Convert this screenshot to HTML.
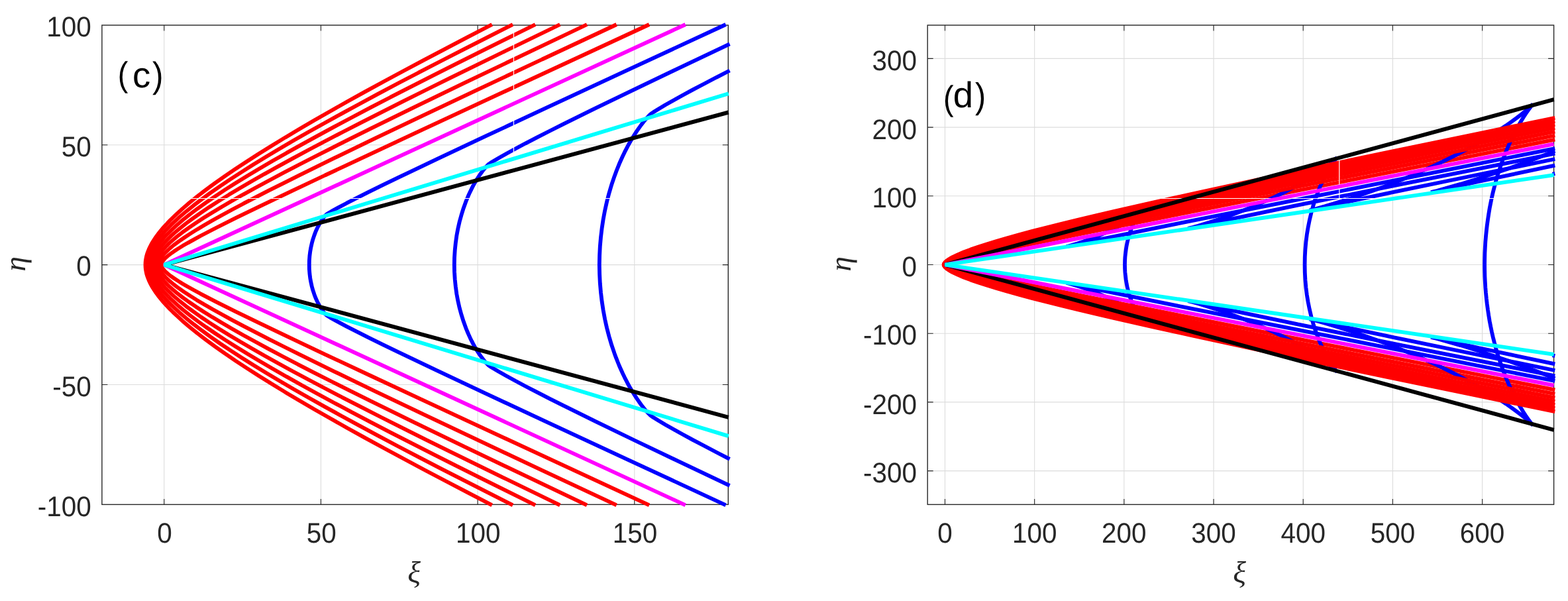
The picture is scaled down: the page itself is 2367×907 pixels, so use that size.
<!DOCTYPE html>
<html lang="en"><head><meta charset="utf-8"><title>Wake patterns (c) (d)</title>
<style>
html,body{margin:0;padding:0;background:#fff;}
body{width:2367px;height:907px;overflow:hidden;}
svg{display:block;}
text{text-rendering:geometricPrecision;}
.t{font-family:"Liberation Sans",sans-serif;font-size:41.5px;fill:#262626;}
.l{font-family:"Liberation Sans",sans-serif;fill:#000;}
.g{font-family:"Liberation Serif","DejaVu Serif",serif;font-style:italic;fill:#262626;}
</style></head>
<body>
<svg width="2367" height="907" viewBox="0 0 2367 907">
<rect width="2367" height="907" fill="#fff"/>
<g id="panel-c">
<path d="M247.75 38 V761.4 M484.44 38 V761.4 M721.12 38 V761.4 M957.8 38 V761.4 M153.9 580.5 H1099.3 M153.9 399.65 H1099.3 M153.9 218.8 H1099.3" stroke="#262626" stroke-opacity="0.16" stroke-width="1.1" fill="none"/>
<rect x="153.9" y="38" width="945.4" height="723.4" fill="none" stroke="#262626" stroke-width="1.4"/>
<path d="M247.75 761.4 v-8.5 M247.75 38 v8.5 M484.44 761.4 v-8.5 M484.44 38 v8.5 M721.12 761.4 v-8.5 M721.12 38 v8.5 M957.8 761.4 v-8.5 M957.8 38 v8.5 M153.9 580.5 h8.5 M1099.3 580.5 h-8.5 M153.9 399.65 h8.5 M1099.3 399.65 h-8.5 M153.9 218.8 h8.5 M1099.3 218.8 h-8.5" stroke="#262626" stroke-width="1.1" fill="none"/>
<mask id="seam-c" maskUnits="userSpaceOnUse" x="0" y="0" width="2367" height="907"><rect width="2367" height="907" fill="#fff"/><path d="M775.5 32 V300.1 M147.9 299.5 H1105.3" stroke="#000" stroke-width="1.2" fill="none"/></mask>
<g fill="none" stroke-linecap="butt">
<g mask="url(#seam-c)">
<path d="M1095.6 762.3 L946.4 693.1 L827.0 637.6 L732.7 593.6 L659.0 558.9 L600.8 531.1 L577.0 519.6 L556.2 509.4 L538.4 500.4 L523.1 492.6 L510.5 485.9 L500.5 480.4 L495.7 477.5 L492.6 475.5 L490.8 473.7 L488.6 471.1 L485.3 466.5 L482.2 461.4 L479.3 455.9 L476.6 450.0 L474.4 444.2 L472.4 438.2 L470.7 432.0 L469.3 425.7 L468.2 419.4 L467.4 412.9 L466.9 406.2 L466.8 399.6 L466.9 393.1 L467.4 386.4 L468.2 379.9 L469.3 373.6 L470.7 367.3 L472.4 361.1 L474.4 355.1 L476.6 349.3 L479.3 343.4 L482.2 337.9 L485.3 332.8 L488.6 328.2 L490.8 325.6 L492.6 323.8 L495.7 321.8 L500.5 318.9 L510.5 313.4 L523.1 306.7 L538.4 298.9 L556.2 289.9 L577.0 279.7 L600.8 268.2 L659.0 240.4 L732.7 205.7 L827.0 161.7 L946.4 106.2 L1095.6 37.0" stroke="#0000ff" stroke-width="5.8" fill="none" stroke-linejoin="bevel" />
<path d="M980.0 762.3 L730.9 646.9 L635.2 602.4 L556.2 565.5 L490.7 534.8 L437.6 509.7 L393.2 488.4 L356.5 470.6 L326.9 455.8 L314.3 449.3 L302.7 443.3 L292.5 437.7 L283.5 432.7 L275.6 428.2 L268.7 423.9 L262.7 420.0 L257.5 416.4 L253.2 413.0 L249.7 409.9 L247.1 407.0 L246.0 405.7 L245.2 404.4 L244.5 403.2 L244.1 402.0 L243.8 400.8 L243.7 399.6 L243.8 398.5 L244.1 397.3 L244.5 396.1 L245.2 394.9 L246.0 393.6 L247.1 392.3 L249.7 389.4 L253.2 386.3 L257.5 382.9 L262.7 379.3 L268.7 375.4 L275.6 371.1 L283.5 366.6 L292.5 361.6 L302.7 356.0 L314.3 350.0 L326.9 343.5 L356.5 328.7 L393.2 310.9 L437.6 289.6 L490.7 264.5 L556.2 233.8 L635.2 196.9 L730.9 152.4 L980.0 37.0" stroke="#ff0000" stroke-width="5.8" fill="none" stroke-linejoin="bevel" />
<path d="M1101.5 732.9 L1023.6 695.9 L956.8 664.0 L899.3 636.1 L851.2 612.4 L830.1 601.8 L810.7 591.9 L793.4 583.0 L778.0 574.8 L764.3 567.3 L752.8 560.8 L743.5 555.3 L739.9 553.0 L737.5 551.4 L735.4 549.3 L732.7 546.5 L730.0 543.2 L727.3 539.6 L724.5 535.8 L721.9 531.8 L719.3 527.8 L716.7 523.4 L714.2 518.9 L711.9 514.4 L709.7 509.9 L707.4 504.9 L705.3 500.0 L703.3 495.1 L699.7 485.1 L696.5 474.9 L693.7 464.8 L691.3 454.2 L689.3 443.5 L687.8 432.4 L686.7 421.5 L686.0 410.4 L685.8 399.6 L686.0 388.9 L686.7 377.8 L687.8 366.9 L689.3 355.8 L691.3 345.1 L693.7 334.5 L696.5 324.4 L699.7 314.2 L703.3 304.2 L705.3 299.3 L707.4 294.4 L709.7 289.4 L711.9 284.9 L714.2 280.4 L716.7 275.9 L719.3 271.5 L721.9 267.5 L724.5 263.5 L727.3 259.7 L730.0 256.1 L732.7 252.8 L735.4 250.0 L737.5 247.9 L739.9 246.3 L743.5 244.0 L752.8 238.5 L764.3 232.0 L778.0 224.5 L793.4 216.3 L810.7 207.4 L830.1 197.5 L851.2 186.9 L899.3 163.2 L956.8 135.3 L1023.6 103.4 L1101.5 66.4" stroke="#0000ff" stroke-width="5.8" fill="none" stroke-linejoin="bevel" />
<path d="M930.7 762.3 L818.5 709.8 L723.0 664.9 L639.5 625.4 L566.5 590.6 L504.4 560.6 L451.6 534.7 L428.2 523.0 L406.0 511.9 L386.1 501.6 L367.7 492.1 L350.6 483.1 L335.4 474.8 L321.4 467.0 L308.8 459.7 L297.2 452.9 L286.9 446.4 L277.6 440.3 L269.4 434.7 L262.3 429.4 L256.2 424.3 L251.1 419.5 L248.8 417.3 L246.9 415.1 L245.2 412.9 L243.7 410.9 L242.4 408.9 L241.4 406.9 L240.7 405.1 L240.1 403.2 L239.8 401.4 L239.7 399.6 L239.8 397.9 L240.1 396.1 L240.7 394.2 L241.4 392.4 L242.4 390.4 L243.7 388.4 L245.2 386.4 L246.9 384.2 L248.8 382.0 L251.1 379.8 L256.2 375.0 L262.3 369.9 L269.4 364.6 L277.6 359.0 L286.9 352.9 L297.2 346.4 L308.8 339.6 L321.4 332.3 L335.4 324.5 L350.6 316.2 L367.7 307.2 L386.1 297.7 L406.0 287.4 L428.2 276.3 L451.6 264.6 L504.4 238.7 L566.5 208.7 L639.5 173.9 L723.0 134.4 L818.5 89.5 L930.7 37.0" stroke="#ff0000" stroke-width="5.8" fill="none" stroke-linejoin="bevel" />
<path d="M1101.5 692.8 L1081.4 682.5 L1062.9 672.8 L1045.9 663.9 L1030.5 655.5 L1016.6 647.8 L1004.5 641.0 L994.1 634.8 L986.0 629.8 L982.9 627.6 L981.7 626.7 L978.7 623.7 L975.3 620.0 L971.8 615.8 L968.2 611.2 L964.6 606.2 L961.1 601.1 L957.9 596.2 L954.8 591.3 L951.7 586.1 L948.7 580.8 L945.9 575.4 L942.9 569.6 L940.1 563.8 L937.5 558.0 L934.8 552.0 L932.4 546.0 L930.0 539.9 L927.6 533.4 L923.3 520.8 L919.5 508.0 L916.1 495.0 L914.6 488.3 L913.1 481.5 L910.6 468.0 L908.6 454.8 L907.0 441.3 L905.8 427.6 L905.1 413.6 L904.8 399.6 L905.1 385.7 L905.8 371.7 L907.0 358.0 L908.6 344.5 L910.6 331.3 L913.1 317.8 L914.6 311.0 L916.1 304.3 L919.5 291.3 L923.3 278.5 L927.6 265.9 L930.0 259.4 L932.4 253.3 L934.8 247.3 L937.5 241.3 L940.1 235.5 L942.9 229.7 L945.9 223.9 L948.7 218.5 L951.7 213.2 L954.8 208.0 L957.9 203.1 L961.1 198.2 L964.6 193.1 L968.2 188.1 L971.8 183.5 L975.3 179.3 L978.7 175.6 L981.7 172.6 L982.9 171.7 L986.0 169.5 L994.1 164.5 L1004.5 158.3 L1016.6 151.5 L1030.5 143.8 L1045.9 135.4 L1062.9 126.5 L1081.4 116.8 L1101.5 106.5" stroke="#0000ff" stroke-width="5.8" fill="none" stroke-linejoin="bevel" />
<path d="M886.0 762.3 L789.1 716.2 L701.1 674.1 L625.7 637.6 L558.9 604.9 L528.7 589.9 L500.0 575.5 L474.0 562.3 L449.6 549.8 L427.0 538.0 L405.5 526.6 L385.5 515.8 L367.1 505.7 L350.4 496.2 L334.6 487.1 L320.5 478.6 L307.4 470.5 L295.5 462.7 L284.9 455.5 L275.3 448.6 L266.8 442.0 L259.4 435.7 L256.0 432.7 L253.0 429.7 L250.1 426.8 L247.6 424.1 L245.3 421.3 L243.2 418.7 L241.4 416.1 L239.9 413.6 L238.6 411.2 L237.5 408.8 L236.7 406.4 L236.1 404.2 L235.7 401.9 L235.6 399.6 L235.7 397.4 L236.1 395.1 L236.7 392.9 L237.5 390.5 L238.6 388.1 L239.9 385.7 L241.4 383.2 L243.2 380.6 L245.3 378.0 L247.6 375.2 L250.1 372.5 L253.0 369.6 L256.0 366.6 L259.4 363.6 L266.8 357.3 L275.3 350.7 L284.9 343.8 L295.5 336.6 L307.4 328.8 L320.5 320.7 L334.6 312.2 L350.4 303.1 L367.1 293.6 L385.5 283.5 L405.5 272.7 L427.0 261.3 L449.6 249.5 L474.0 237.0 L500.0 223.8 L528.7 209.4 L558.9 194.4 L625.7 161.7 L701.1 125.2 L789.1 83.1 L886.0 37.0" stroke="#ff0000" stroke-width="5.8" fill="none" stroke-linejoin="bevel" />
<path d="M845.3 762.3 L758.7 720.3 L679.1 681.4 L643.5 663.8 L608.6 646.4 L576.0 630.0 L545.9 614.7 L516.9 599.8 L490.4 586.0 L465.3 572.8 L441.8 560.2 L419.9 548.2 L399.2 536.7 L380.4 526.0 L362.4 515.5 L346.0 505.7 L330.6 496.2 L316.4 487.1 L303.6 478.5 L291.8 470.2 L281.1 462.3 L271.4 454.6 L262.9 447.4 L259.0 443.9 L255.4 440.4 L252.1 437.1 L249.0 433.9 L246.2 430.6 L243.6 427.5 L241.3 424.5 L239.2 421.5 L237.4 418.6 L235.9 415.7 L234.5 412.9 L233.5 410.2 L232.6 407.5 L232.1 404.9 L231.7 402.3 L231.6 399.6 L231.7 397.0 L232.1 394.4 L232.6 391.8 L233.5 389.1 L234.5 386.4 L235.9 383.6 L237.4 380.7 L239.2 377.8 L241.3 374.8 L243.6 371.8 L246.2 368.7 L249.0 365.4 L252.1 362.2 L255.4 358.9 L259.0 355.4 L262.9 351.9 L271.4 344.7 L281.1 337.0 L291.8 329.1 L303.6 320.8 L316.4 312.2 L330.6 303.1 L346.0 293.6 L362.4 283.8 L380.4 273.3 L399.2 262.6 L419.9 251.1 L441.8 239.1 L465.3 226.5 L490.4 213.3 L516.9 199.5 L545.9 184.6 L576.0 169.3 L608.6 152.9 L643.5 135.5 L679.1 117.9 L758.7 79.0 L845.3 37.0" stroke="#ff0000" stroke-width="5.8" fill="none" stroke-linejoin="bevel" />
<path d="M808.1 762.3 L728.0 722.7 L689.5 703.4 L654.8 685.9 L621.9 669.2 L589.5 652.6 L559.2 636.9 L531.1 622.1 L504.0 607.7 L479.1 594.2 L455.4 581.2 L432.5 568.4 L411.2 556.2 L391.6 544.8 L373.2 533.8 L355.7 523.0 L339.7 512.9 L324.7 503.0 L310.8 493.5 L298.2 484.5 L286.6 475.8 L276.2 467.5 L266.8 459.4 L258.4 451.7 L254.6 447.9 L251.0 444.2 L247.7 440.7 L244.7 437.1 L241.9 433.7 L239.4 430.3 L237.1 427.0 L235.1 423.7 L233.3 420.5 L231.8 417.4 L230.5 414.4 L229.4 411.3 L228.6 408.4 L228.0 405.4 L227.7 402.5 L227.6 399.6 L227.7 396.8 L228.0 393.9 L228.6 390.9 L229.4 388.0 L230.5 384.9 L231.8 381.9 L233.3 378.8 L235.1 375.6 L237.1 372.3 L239.4 369.0 L241.9 365.6 L244.7 362.2 L247.7 358.6 L251.0 355.1 L254.6 351.4 L258.4 347.6 L266.8 339.9 L276.2 331.8 L286.6 323.5 L298.2 314.8 L310.8 305.8 L324.7 296.3 L339.7 286.4 L355.7 276.3 L373.2 265.5 L391.6 254.5 L411.2 243.1 L432.5 230.9 L455.4 218.1 L479.1 205.1 L504.0 191.6 L531.1 177.2 L559.2 162.4 L589.5 146.7 L621.9 130.1 L654.8 113.4 L689.5 95.9 L728.0 76.6 L808.1 37.0" stroke="#ff0000" stroke-width="5.8" fill="none" stroke-linejoin="bevel" />
<path d="M774.1 762.3 L736.2 743.2 L700.3 724.9 L665.9 707.3 L631.7 689.6 L600.8 673.5 L570.4 657.4 L542.0 642.1 L515.5 627.7 L489.9 613.6 L465.6 600.0 L443.2 587.2 L421.5 574.5 L401.4 562.5 L382.2 550.8 L364.7 539.7 L348.0 528.9 L332.4 518.5 L317.9 508.4 L304.6 498.7 L292.4 489.4 L281.2 480.4 L270.9 471.7 L261.7 463.2 L257.5 459.1 L253.5 455.1 L249.8 451.2 L246.4 447.3 L243.2 443.5 L240.2 439.8 L237.5 436.2 L235.1 432.6 L232.8 429.0 L230.8 425.5 L229.1 422.2 L227.6 418.8 L226.3 415.5 L225.3 412.3 L224.5 409.1 L224.0 405.9 L223.6 402.8 L223.5 399.6 L223.6 396.5 L224.0 393.4 L224.5 390.2 L225.3 387.0 L226.3 383.8 L227.6 380.5 L229.1 377.1 L230.8 373.8 L232.8 370.3 L235.1 366.7 L237.5 363.1 L240.2 359.5 L243.2 355.8 L246.4 352.0 L249.8 348.1 L253.5 344.2 L257.5 340.2 L261.7 336.1 L270.9 327.6 L281.2 318.9 L292.4 309.9 L304.6 300.6 L317.9 290.9 L332.4 280.8 L348.0 270.4 L364.7 259.6 L382.2 248.5 L401.4 236.8 L421.5 224.8 L443.2 212.1 L465.6 199.3 L489.9 185.7 L515.5 171.6 L542.0 157.2 L570.4 141.9 L600.8 125.8 L631.7 109.7 L665.9 92.0 L700.3 74.4 L736.2 56.1 L774.1 37.0" stroke="#ff0000" stroke-width="5.8" fill="none" stroke-linejoin="bevel" />
<path d="M742.7 762.3 L706.2 743.4 L672.4 725.7 L640.0 708.7 L609.2 692.3 L579.9 676.5 L551.2 660.9 L524.3 646.0 L499.2 631.8 L475.0 618.0 L451.9 604.5 L430.7 591.9 L410.1 579.3 L390.8 567.3 L372.6 555.6 L355.8 544.6 L339.8 533.7 L324.8 523.1 L310.9 512.9 L298.0 503.0 L286.2 493.5 L275.3 484.2 L265.5 475.2 L260.9 470.8 L256.5 466.5 L252.5 462.2 L248.6 458.0 L245.0 454.0 L241.7 449.9 L238.5 445.9 L235.7 442.1 L233.1 438.2 L230.7 434.5 L228.5 430.8 L226.6 427.1 L224.9 423.5 L223.5 420.0 L222.2 416.5 L221.2 413.1 L220.5 409.7 L219.9 406.3 L219.6 403.0 L219.5 399.6 L219.6 396.3 L219.9 393.0 L220.5 389.6 L221.2 386.2 L222.2 382.8 L223.5 379.3 L224.9 375.8 L226.6 372.2 L228.5 368.5 L230.7 364.8 L233.1 361.1 L235.7 357.2 L238.5 353.4 L241.7 349.4 L245.0 345.3 L248.6 341.3 L252.5 337.1 L256.5 332.8 L260.9 328.5 L265.5 324.1 L275.3 315.1 L286.2 305.8 L298.0 296.3 L310.9 286.4 L324.8 276.2 L339.8 265.6 L355.8 254.7 L372.6 243.7 L390.8 232.0 L410.1 220.0 L430.7 207.4 L451.9 194.8 L475.0 181.3 L499.2 167.5 L524.3 153.3 L551.2 138.4 L579.9 122.8 L609.2 107.0 L640.0 90.6 L672.4 73.6 L706.2 55.9 L742.7 37.0" stroke="#ff0000" stroke-width="5.8" fill="none" stroke-linejoin="bevel" />
</g>
<path d="M1099.8 629.8 L247.8 399.6 L1099.8 169.5" stroke="#000000" stroke-width="6.0" fill="none" stroke-linejoin="bevel" />
<path d="M1034.7 762.3 L247.8 399.6 L1034.7 37.0" stroke="#ff00ff" stroke-width="5.8" fill="none" stroke-linejoin="bevel" />
<path d="M1099.8 658.1 L247.8 399.6 L1099.8 141.2" stroke="#00ffff" stroke-width="5.8" fill="none" stroke-linejoin="bevel" />
</g>
<text class="t" transform="translate(248.45 818.9) scale(0.975 1.03)" text-anchor="middle">0</text>
<text class="t" transform="translate(485.13 818.9) scale(0.975 1.03)" text-anchor="middle">50</text>
<text class="t" transform="translate(721.82 818.9) scale(0.975 1.03)" text-anchor="middle">100</text>
<text class="t" transform="translate(958.5 818.9) scale(0.975 1.03)" text-anchor="middle">150</text>
<text class="t" transform="translate(137.7 778.85) scale(0.975 1.03)" text-anchor="end">-100</text>
<text class="t" transform="translate(137.7 598.4) scale(0.975 1.03)" text-anchor="end">-50</text>
<text class="t" transform="translate(137.7 416.35) scale(0.975 1.03)" text-anchor="end">0</text>
<text class="t" transform="translate(137.7 235.95) scale(0.975 1.03)" text-anchor="end">50</text>
<text class="t" transform="translate(137.7 54.95) scale(0.975 1.03)" text-anchor="end">100</text>
<text class="g" font-size="45" transform="translate(37.5 398.3) rotate(-90)" text-anchor="middle">η</text>
<text class="g" font-size="46" x="625" y="879" text-anchor="middle">ξ</text>
<text class="l"><tspan x="177.8" y="129.6" font-size="52" textLength="15.58" lengthAdjust="spacingAndGlyphs">(</tspan><tspan x="200.1" y="132" font-size="54.5">c</tspan><tspan x="230" y="132.3" font-size="54.5" textLength="16.52" lengthAdjust="spacingAndGlyphs">)</tspan></text>
</g>
<g id="panel-d">
<path d="M1426.5 38 V761.4 M1561.68 38 V761.4 M1696.86 38 V761.4 M1832.04 38 V761.4 M1967.22 38 V761.4 M2102.4 38 V761.4 M2237.58 38 V761.4 M1400.2 710.6 H2345.6 M1400.2 606.9 H2345.6 M1400.2 503.2 H2345.6 M1400.2 399.5 H2345.6 M1400.2 295.8 H2345.6 M1400.2 192.1 H2345.6 M1400.2 88.4 H2345.6" stroke="#262626" stroke-opacity="0.16" stroke-width="1.1" fill="none"/>
<rect x="1400.2" y="38" width="945.4" height="723.4" fill="none" stroke="#262626" stroke-width="1.4"/>
<path d="M1426.5 761.4 v-8.5 M1426.5 38 v8.5 M1561.68 761.4 v-8.5 M1561.68 38 v8.5 M1696.86 761.4 v-8.5 M1696.86 38 v8.5 M1832.04 761.4 v-8.5 M1832.04 38 v8.5 M1967.22 761.4 v-8.5 M1967.22 38 v8.5 M2102.4 761.4 v-8.5 M2102.4 38 v8.5 M2237.58 761.4 v-8.5 M2237.58 38 v8.5 M1400.2 710.6 h8.5 M2345.6 710.6 h-8.5 M1400.2 606.9 h8.5 M2345.6 606.9 h-8.5 M1400.2 503.2 h8.5 M2345.6 503.2 h-8.5 M1400.2 399.5 h8.5 M2345.6 399.5 h-8.5 M1400.2 295.8 h8.5 M2345.6 295.8 h-8.5 M1400.2 192.1 h8.5 M2345.6 192.1 h-8.5 M1400.2 88.4 h8.5 M2345.6 88.4 h-8.5" stroke="#262626" stroke-width="1.1" fill="none"/>
<mask id="seam-d" maskUnits="userSpaceOnUse" x="0" y="0" width="2367" height="907"><rect width="2367" height="907" fill="#fff"/><path d="M2021.8 32 V300.1 M1394.2 299.5 H2351.6" stroke="#000" stroke-width="1.2" fill="none"/></mask>
<g fill="none" stroke-linecap="butt">
<g mask="url(#seam-d)">
<path d="M2347.3 574.9 L1987.4 503.4 L1781.7 462.4 L1715.1 448.9 L1666.2 438.9 L1631.2 431.6 L1609.9 426.8 L1617.6 428.9 L1626.2 431.5 L1634.7 434.3 L1643.3 437.3 L1651.6 440.4 L1659.7 443.7 L1667.6 447.1 L1675.3 450.6 L1682.7 454.2 L1689.8 457.9 L1696.5 461.8 L1702.9 465.6 L1708.8 469.5 L1714.2 473.4 L1718.9 477.1 L1722.4 480.3 L1720.0 477.3 L1717.4 473.4 L1714.9 469.2 L1712.5 464.6 L1710.2 459.7 L1708.2 454.8 L1706.2 449.5 L1704.5 444.3 L1703.0 438.8 L1701.7 433.4 L1700.6 427.9 L1699.7 422.2 L1699.0 416.7 L1698.4 411.0 L1698.1 405.3 L1698.0 399.5 L1698.1 393.7 L1698.4 388.0 L1699.0 382.3 L1699.7 376.8 L1700.6 371.1 L1701.7 365.6 L1703.0 360.2 L1704.5 354.7 L1706.2 349.5 L1708.2 344.2 L1710.2 339.3 L1712.5 334.4 L1714.9 329.8 L1717.4 325.6 L1720.0 321.7 L1722.4 318.7 L1718.9 321.9 L1714.2 325.6 L1708.8 329.5 L1702.9 333.4 L1696.5 337.2 L1689.8 341.1 L1682.7 344.8 L1675.3 348.4 L1667.6 351.9 L1659.7 355.3 L1651.6 358.6 L1643.3 361.7 L1634.7 364.7 L1626.2 367.5 L1617.6 370.1 L1609.9 372.2 L1631.2 367.4 L1666.2 360.1 L1715.1 350.1 L1781.7 336.6 L1987.4 295.6 L2347.3 224.1" stroke="#0000ff" stroke-width="5.8" fill="none" stroke-linejoin="bevel" />
<path d="M2347.3 588.4 L2005.0 520.5 L1783.2 476.4 L1639.3 447.6 L1547.2 428.9 L1514.5 422.2 L1488.7 416.7 L1468.6 412.3 L1453.1 408.7 L1441.5 405.7 L1436.9 404.4 L1433.2 403.2 L1430.2 402.1 L1428.1 401.1 L1426.7 400.2 L1426.3 399.8 L1426.2 399.5 L1426.3 399.2 L1426.7 398.8 L1428.1 397.9 L1430.2 396.9 L1433.2 395.8 L1436.9 394.6 L1441.5 393.3 L1453.1 390.3 L1468.6 386.7 L1488.7 382.3 L1514.5 376.8 L1547.2 370.1 L1639.3 351.4 L1783.2 322.6 L2005.0 278.5 L2347.3 210.6" stroke="#ff0000" stroke-width="5.8" fill="none" stroke-linejoin="bevel" />
<path d="M2347.3 567.3 L2117.1 521.3 L2030.3 503.8 L1959.1 489.3 L1900.5 477.2 L1853.7 467.4 L1817.3 459.6 L1793.3 454.2 L1800.5 456.0 L1808.7 458.3 L1825.8 463.5 L1843.0 469.0 L1860.0 475.0 L1876.6 481.3 L1892.9 487.8 L1908.7 494.6 L1924.0 501.6 L1938.8 508.9 L1953.1 516.4 L1966.6 524.0 L1973.0 527.8 L1979.2 531.7 L1985.3 535.6 L1991.2 539.5 L1996.7 543.4 L2002.0 547.3 L2006.9 551.0 L2011.3 554.7 L2015.3 558.2 L2018.3 561.1 L2016.1 558.5 L2013.6 555.1 L2011.0 551.4 L2008.3 547.3 L2005.8 543.2 L2003.3 538.9 L2000.9 534.4 L1998.5 529.6 L1993.9 520.0 L1989.8 510.1 L1985.9 499.6 L1982.5 489.0 L1979.5 478.2 L1976.9 467.2 L1974.7 456.3 L1972.8 444.9 L1971.4 433.8 L1970.4 422.5 L1969.8 411.1 L1969.6 399.5 L1969.8 387.9 L1970.4 376.5 L1971.4 365.2 L1972.8 354.1 L1974.7 342.7 L1976.9 331.8 L1979.5 320.8 L1982.5 310.0 L1985.9 299.4 L1989.8 288.9 L1993.9 279.0 L1998.5 269.4 L2000.9 264.6 L2003.3 260.1 L2005.8 255.8 L2008.3 251.7 L2011.0 247.6 L2013.6 243.9 L2016.1 240.5 L2018.3 237.9 L2015.3 240.8 L2011.3 244.3 L2006.9 248.0 L2002.0 251.7 L1996.7 255.6 L1991.2 259.5 L1985.3 263.4 L1979.2 267.3 L1973.0 271.2 L1966.6 275.0 L1953.1 282.6 L1938.8 290.1 L1924.0 297.4 L1908.7 304.4 L1892.9 311.2 L1876.6 317.7 L1860.0 324.0 L1843.0 330.0 L1825.8 335.5 L1808.7 340.7 L1800.5 343.0 L1793.3 344.8 L1817.3 339.4 L1853.7 331.6 L1900.5 321.8 L1959.1 309.7 L2030.3 295.2 L2117.1 277.7 L2347.3 231.7" stroke="#0000ff" stroke-width="5.8" fill="none" stroke-linejoin="bevel" />
<path d="M2347.3 594.5 L2041.3 533.6 L1826.8 490.6 L1677.8 460.4 L1621.9 448.9 L1575.9 439.2 L1537.8 431.1 L1506.6 424.2 L1481.5 418.3 L1461.8 413.3 L1453.6 411.1 L1446.4 409.0 L1440.4 407.0 L1435.4 405.2 L1431.3 403.5 L1428.4 402.0 L1427.3 401.3 L1426.6 400.6 L1426.1 400.0 L1426.0 399.5 L1426.1 399.0 L1426.6 398.4 L1427.3 397.7 L1428.4 397.0 L1431.3 395.5 L1435.4 393.8 L1440.4 392.0 L1446.4 390.0 L1453.6 387.9 L1461.8 385.7 L1481.5 380.7 L1506.6 374.8 L1537.8 367.9 L1575.9 359.8 L1621.9 350.1 L1677.8 338.6 L1826.8 308.4 L2041.3 265.4 L2347.3 204.5" stroke="#ff0000" stroke-width="5.8" fill="none" stroke-linejoin="bevel" />
<path d="M2347.3 559.0 L2209.8 531.0 L2104.7 509.3 L2062.2 500.3 L2026.4 492.7 L1997.1 486.2 L1976.7 481.5 L1987.5 484.3 L1999.9 487.8 L2012.5 491.5 L2025.5 495.4 L2038.4 499.5 L2051.2 503.8 L2064.1 508.2 L2076.8 512.8 L2089.2 517.4 L2101.7 522.1 L2114.1 527.0 L2126.2 532.0 L2138.2 537.1 L2149.8 542.2 L2161.5 547.4 L2172.8 552.7 L2184.0 558.1 L2195.0 563.6 L2205.8 569.2 L2216.3 574.8 L2226.5 580.5 L2236.6 586.3 L2246.2 592.0 L2255.6 597.8 L2264.6 603.6 L2273.5 609.5 L2281.8 615.4 L2289.7 621.1 L2297.0 626.8 L2303.7 632.3 L2309.7 637.5 L2314.2 641.9 L2310.9 638.0 L2307.1 632.9 L2303.2 627.3 L2299.3 621.3 L2295.5 615.0 L2291.8 608.6 L2288.1 601.8 L2284.4 594.7 L2281.0 587.5 L2277.7 580.2 L2274.6 573.1 L2271.5 565.4 L2268.4 557.4 L2265.7 549.6 L2262.9 541.5 L2260.5 533.8 L2258.2 525.8 L2256.0 517.5 L2253.8 509.0 L2252.0 501.1 L2250.3 492.9 L2248.7 484.7 L2247.3 476.2 L2246.0 467.6 L2244.8 458.9 L2243.9 451.0 L2243.0 442.1 L2242.3 434.0 L2241.8 425.0 L2241.4 416.8 L2241.2 407.7 L2241.1 399.5 L2241.2 391.3 L2241.4 382.2 L2241.8 374.0 L2242.3 365.0 L2243.0 356.9 L2243.9 348.0 L2244.8 340.1 L2246.0 331.4 L2247.3 322.8 L2248.7 314.3 L2250.3 306.1 L2252.0 297.9 L2253.8 290.0 L2256.0 281.5 L2258.2 273.2 L2260.5 265.2 L2262.9 257.5 L2265.7 249.4 L2268.4 241.6 L2271.5 233.6 L2274.6 225.9 L2277.7 218.8 L2281.0 211.5 L2284.4 204.3 L2288.1 197.2 L2291.8 190.4 L2295.5 184.0 L2299.3 177.7 L2303.2 171.7 L2307.1 166.1 L2310.9 161.0 L2314.2 157.1 L2309.7 161.5 L2303.7 166.7 L2297.0 172.2 L2289.7 177.9 L2281.8 183.6 L2273.5 189.5 L2264.6 195.4 L2255.6 201.2 L2246.2 207.0 L2236.6 212.7 L2226.5 218.5 L2216.3 224.2 L2205.8 229.8 L2195.0 235.4 L2184.0 240.9 L2172.8 246.3 L2161.5 251.6 L2149.8 256.8 L2138.2 261.9 L2126.2 267.0 L2114.1 272.0 L2101.7 276.9 L2089.2 281.6 L2076.8 286.2 L2064.1 290.8 L2051.2 295.2 L2038.4 299.5 L2025.5 303.6 L2012.5 307.5 L1999.9 311.2 L1987.5 314.7 L1976.7 317.5 L1997.1 312.8 L2026.4 306.3 L2062.2 298.7 L2104.7 289.7 L2209.8 268.0 L2347.3 240.0" stroke="#0000ff" stroke-width="5.8" fill="none" stroke-linejoin="bevel" />
<path d="M2347.3 600.3 L2061.0 543.0 L1950.6 520.8 L1853.6 501.1 L1771.1 484.2 L1701.4 469.8 L1643.2 457.6 L1593.4 446.9 L1552.1 437.7 L1517.5 429.7 L1489.5 422.8 L1477.7 419.8 L1467.1 416.8 L1457.6 414.1 L1449.4 411.5 L1442.4 409.1 L1436.6 406.8 L1431.9 404.7 L1428.5 402.7 L1427.3 401.8 L1426.4 401.0 L1425.9 400.2 L1425.7 399.5 L1425.9 398.8 L1426.4 398.0 L1427.3 397.2 L1428.5 396.3 L1431.9 394.3 L1436.6 392.2 L1442.4 389.9 L1449.4 387.5 L1457.6 384.9 L1467.1 382.2 L1477.7 379.2 L1489.5 376.2 L1517.5 369.3 L1552.1 361.3 L1593.4 352.1 L1643.2 341.4 L1701.4 329.2 L1771.1 314.8 L1853.6 297.9 L1950.6 278.2 L2061.0 256.0 L2347.3 198.7" stroke="#ff0000" stroke-width="5.8" fill="none" stroke-linejoin="bevel" />
<path d="M2347.3 549.4 L2284.7 536.2 L2232.2 525.0 L2189.6 515.6 L2160.1 508.8 L2169.7 511.3 L2181.0 514.4 L2204.6 521.1 L2228.7 528.5 L2253.0 536.4 L2276.9 544.6 L2300.7 553.1 L2324.2 562.0 L2347.3 571.2 M2347.3 227.8 L2324.2 237.0 L2300.7 245.9 L2276.9 254.4 L2253.0 262.6 L2228.7 270.5 L2204.6 277.9 L2181.0 284.6 L2169.7 287.7 L2160.1 290.2 L2189.6 283.4 L2232.2 274.0 L2284.7 262.8 L2347.3 249.6" stroke="#0000ff" stroke-width="5.8" fill="none" stroke-linejoin="bevel" />
<path d="M2347.3 605.9 L2198.6 576.0 L2072.0 550.4 L1963.9 528.4 L1868.4 508.8 L1786.5 491.9 L1716.6 477.2 L1656.8 464.3 L1605.3 453.0 L1561.5 443.0 L1525.2 434.3 L1509.4 430.3 L1495.1 426.6 L1482.2 423.1 L1470.8 419.8 L1460.5 416.6 L1451.4 413.6 L1443.8 410.8 L1437.3 408.1 L1432.2 405.6 L1430.2 404.4 L1428.5 403.3 L1427.1 402.2 L1426.2 401.3 L1425.6 400.3 L1425.4 399.5 L1425.6 398.7 L1426.2 397.7 L1427.1 396.8 L1428.5 395.7 L1430.2 394.6 L1432.2 393.4 L1437.3 390.9 L1443.8 388.2 L1451.4 385.4 L1460.5 382.4 L1470.8 379.2 L1482.2 375.9 L1495.1 372.4 L1509.4 368.7 L1525.2 364.7 L1561.5 356.0 L1605.3 346.0 L1656.8 334.7 L1716.6 321.8 L1786.5 307.1 L1868.4 290.2 L1963.9 270.6 L2072.0 248.6 L2198.6 223.0 L2347.3 193.1" stroke="#ff0000" stroke-width="5.8" fill="none" stroke-linejoin="bevel" />
<path d="M2347.3 537.1 L2343.5 536.2 L2347.3 537.1 M2347.3 261.9 L2343.5 262.8 L2347.3 261.9" stroke="#0000ff" stroke-width="5.8" fill="none" stroke-linejoin="bevel" />
<path d="M2347.3 611.1 L2207.0 582.8 L2081.1 557.1 L1973.6 535.1 L1880.6 515.8 L1798.4 498.5 L1728.0 483.5 L1666.5 470.1 L1614.4 458.3 L1569.2 447.7 L1549.2 442.8 L1531.0 438.3 L1514.2 433.9 L1499.1 429.8 L1485.6 426.0 L1473.4 422.3 L1462.4 418.8 L1452.8 415.4 L1444.6 412.2 L1437.8 409.2 L1434.9 407.8 L1432.3 406.4 L1430.2 405.1 L1428.4 403.8 L1427.0 402.6 L1426.0 401.5 L1425.4 400.5 L1425.2 399.5 L1425.4 398.5 L1426.0 397.5 L1427.0 396.4 L1428.4 395.2 L1430.2 393.9 L1432.3 392.6 L1434.9 391.2 L1437.8 389.8 L1444.6 386.8 L1452.8 383.6 L1462.4 380.2 L1473.4 376.7 L1485.6 373.0 L1499.1 369.2 L1514.2 365.1 L1531.0 360.7 L1549.2 356.2 L1569.2 351.3 L1614.4 340.7 L1666.5 328.9 L1728.0 315.5 L1798.4 300.5 L1880.6 283.2 L1973.6 263.9 L2081.1 241.9 L2207.0 216.2 L2347.3 187.9" stroke="#ff0000" stroke-width="5.8" fill="none" stroke-linejoin="bevel" />
<path d="M2347.3 616.2 L2212.0 588.7 L2089.4 563.5 L1983.9 541.7 L1890.0 522.0 L1807.2 504.4 L1736.3 489.0 L1674.2 475.1 L1620.8 462.8 L1596.7 457.1 L1574.6 451.7 L1554.0 446.6 L1535.2 441.7 L1517.9 437.1 L1502.2 432.6 L1487.9 428.4 L1475.3 424.5 L1463.8 420.6 L1453.8 417.0 L1445.2 413.5 L1438.1 410.2 L1435.0 408.7 L1432.4 407.1 L1430.1 405.7 L1428.2 404.3 L1426.8 403.0 L1425.7 401.7 L1425.1 400.6 L1424.9 399.5 L1425.1 398.4 L1425.7 397.3 L1426.8 396.0 L1428.2 394.7 L1430.1 393.3 L1432.4 391.9 L1435.0 390.3 L1438.1 388.8 L1445.2 385.5 L1453.8 382.0 L1463.8 378.4 L1475.3 374.5 L1487.9 370.6 L1502.2 366.4 L1517.9 361.9 L1535.2 357.3 L1554.0 352.4 L1574.6 347.3 L1596.7 341.9 L1620.8 336.2 L1674.2 323.9 L1736.3 310.0 L1807.2 294.6 L1890.0 277.0 L1983.9 257.3 L2089.4 235.5 L2212.0 210.3 L2347.3 182.8" stroke="#ff0000" stroke-width="5.8" fill="none" stroke-linejoin="bevel" />
<path d="M2347.3 621.1 L2215.0 594.0 L2094.8 569.1 L1990.9 547.4 L1898.1 527.7 L1815.9 510.0 L1743.9 494.1 L1681.0 479.9 L1653.2 473.4 L1626.9 467.1 L1602.3 461.2 L1579.4 455.5 L1558.4 450.1 L1539.0 444.9 L1521.2 440.0 L1504.9 435.3 L1490.3 430.8 L1477.0 426.5 L1465.1 422.4 L1454.7 418.5 L1445.7 414.7 L1438.3 411.2 L1435.1 409.4 L1432.4 407.8 L1430.0 406.2 L1428.1 404.7 L1426.6 403.3 L1425.5 401.9 L1424.8 400.7 L1424.6 399.5 L1424.8 398.3 L1425.5 397.1 L1426.6 395.7 L1428.1 394.3 L1430.0 392.8 L1432.4 391.2 L1435.1 389.6 L1438.3 387.8 L1445.7 384.3 L1454.7 380.5 L1465.1 376.6 L1477.0 372.5 L1490.3 368.2 L1504.9 363.7 L1521.2 359.0 L1539.0 354.1 L1558.4 348.9 L1579.4 343.5 L1602.3 337.8 L1626.9 331.9 L1653.2 325.6 L1681.0 319.1 L1743.9 304.9 L1815.9 289.0 L1898.1 271.3 L1990.9 251.6 L2094.8 229.9 L2215.0 205.0 L2347.3 177.9" stroke="#ff0000" stroke-width="5.8" fill="none" stroke-linejoin="bevel" />
</g>
<path d="M2345.7 648.8 L1426.5 399.5 L2345.7 150.2" stroke="#000000" stroke-width="6.0" fill="none" stroke-linejoin="bevel" />
<path d="M2345.7 581.6 L1426.5 399.5 L2345.7 217.4" stroke="#ff00ff" stroke-width="5.8" fill="none" stroke-linejoin="bevel" />
<path d="M2345.7 534.9 L1426.5 399.5 L2345.7 264.1" stroke="#00ffff" stroke-width="5.8" fill="none" stroke-linejoin="bevel" />
</g>
<text class="t" transform="translate(1426.5 818.9) scale(0.975 1.03)" text-anchor="middle">0</text>
<text class="t" transform="translate(1561.68 818.9) scale(0.975 1.03)" text-anchor="middle">100</text>
<text class="t" transform="translate(1696.86 818.9) scale(0.975 1.03)" text-anchor="middle">200</text>
<text class="t" transform="translate(1832.04 818.9) scale(0.975 1.03)" text-anchor="middle">300</text>
<text class="t" transform="translate(1967.22 818.9) scale(0.975 1.03)" text-anchor="middle">400</text>
<text class="t" transform="translate(2102.4 818.9) scale(0.975 1.03)" text-anchor="middle">500</text>
<text class="t" transform="translate(2237.58 818.9) scale(0.975 1.03)" text-anchor="middle">600</text>
<text class="t" transform="translate(1384 728) scale(0.975 1.03)" text-anchor="end">-300</text>
<text class="t" transform="translate(1384 624.75) scale(0.975 1.03)" text-anchor="end">-200</text>
<text class="t" transform="translate(1384 519.9) scale(0.975 1.03)" text-anchor="end">-100</text>
<text class="t" transform="translate(1384 416.7) scale(0.975 1.03)" text-anchor="end">0</text>
<text class="t" transform="translate(1384 313.2) scale(0.975 1.03)" text-anchor="end">100</text>
<text class="t" transform="translate(1384 209.7) scale(0.975 1.03)" text-anchor="end">200</text>
<text class="t" transform="translate(1384 105.95) scale(0.975 1.03)" text-anchor="end">300</text>
<text class="g" font-size="45" transform="translate(1283.5 398.3) rotate(-90)" text-anchor="middle">η</text>
<text class="g" font-size="46" x="1871" y="879" text-anchor="middle">ξ</text>
<text class="l"><tspan x="1424" y="165.8" font-size="52" textLength="15.58" lengthAdjust="spacingAndGlyphs">(</tspan><tspan x="1438.7" y="161.7" font-size="54.5">d</tspan><tspan x="1472.1" y="162.8" font-size="54" textLength="16.18" lengthAdjust="spacingAndGlyphs">)</tspan></text>
</g>
</svg>
</body></html>
